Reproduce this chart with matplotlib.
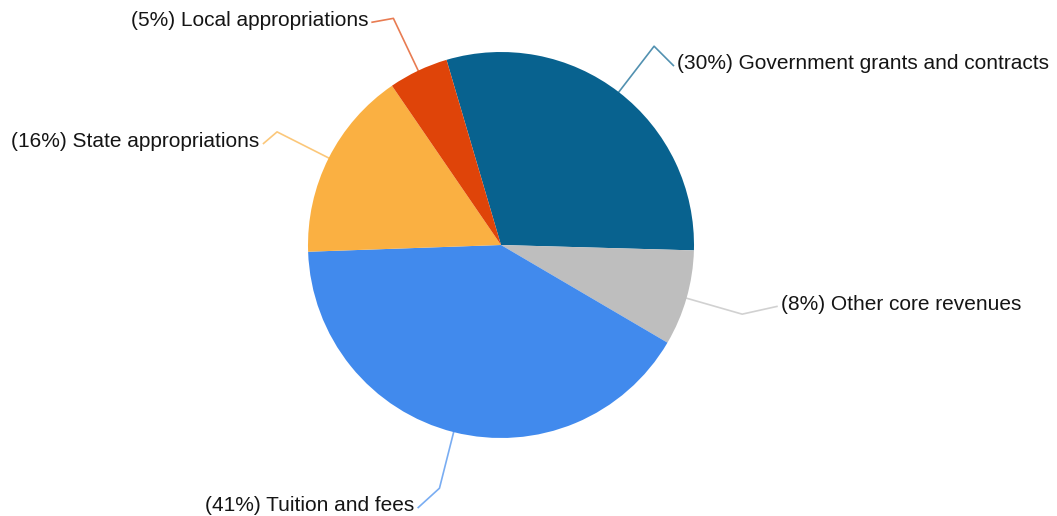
import numpy as np
import matplotlib
matplotlib.use('Agg')
import matplotlib.pyplot as plt
from matplotlib import font_manager

# slices in clockwise order starting near 12 o'clock
labels = ['Government grants and contracts', 'Other core revenues',
          'Tuition and fees', 'State appropriations', 'Local appropriations']
shares = [30, 8, 41, 16, 5]
colors = ['#08628F', '#BEBEBE', '#418AED', '#FAB042', '#DF4409']

# short leg from the elbow to the text, in radius units (dx, dy)
legs = [(0.10, -0.10), (0.18, 0.04), (-0.11, -0.10), (-0.07, -0.06), (-0.11, -0.02)]

names = {f.name for f in font_manager.fontManager.ttflist}
fam = ['Liberation Sans Narrow', 'DejaVu Sans'] if 'Liberation Sans Narrow' in names else ['Liberation Sans', 'DejaVu Sans']

W, H, dpi = 1057, 516, 100
cx, cy, R = 501, 245, 193

fig = plt.figure(figsize=(W / dpi, H / dpi), dpi=dpi)
ax = fig.add_axes([0, 0, 1, 1])
wedges, _ = ax.pie(shares, colors=colors, startangle=106.4, counterclock=False,
                   radius=1, center=(0, 0), wedgeprops=dict(linewidth=0))
ax.set_xlim(-cx / R, (W - cx) / R)
ax.set_ylim(-(H - cy) / R, cy / R)
ax.set_aspect('auto')
ax.axis('off')

for w, lab, s, c, (lx, ly) in zip(wedges, labels, shares, colors, legs):
    ang = np.deg2rad((w.theta1 + w.theta2) / 2)
    x0, y0 = np.cos(ang), np.sin(ang)
    x1, y1 = 1.3 * x0, 1.3 * y0
    x2, y2 = x1 + lx, y1 + ly
    ax.plot([x0, x1, x2], [y0, y1, y2], color=c, alpha=0.7, lw=1.2)
    ha = 'left' if lx > 0 else 'right'
    off = 0.02 if lx > 0 else -0.02
    ax.text(x2 + off, y2 + 0.01, '(%d%%) %s' % (s, lab), ha=ha, va='center',
            fontsize=15, family=fam, color='#151515')

fig.savefig('out.png', dpi=dpi)
